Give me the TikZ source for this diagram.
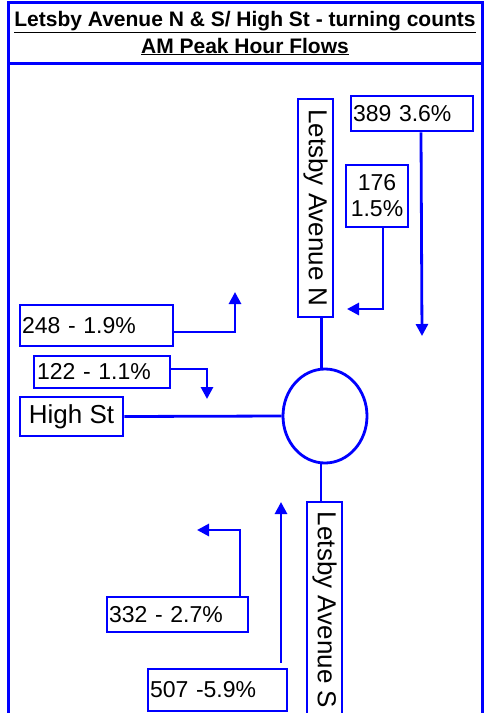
\documentclass[tikz,border=0pt]{standalone}
\usepackage{fontspec}
\setmainfont{Liberation Sans}
\usepackage{tikz}
\usetikzlibrary{arrows.meta, calc, shapes.geometric}
\definecolor{roadblue}{HTML}{0000FF}
\newcommand{\numfont}{\fontsize{23}{26}\selectfont}
\newcommand{\roadfont}{\fontsize{26}{30}\selectfont}

\begin{document}
\begin{tikzpicture}[x=1pt, y=-1pt,
    box/.style={draw=roadblue, line width=2.8pt, fill=white, inner sep=0pt},
    lbox/.style={box, align=left, inner xsep=2pt, font=\numfont},
    road/.style={draw=roadblue, line width=2.8pt},
    flow/.style={draw=roadblue, line width=2.8pt, -{Triangle[length=12pt, width=12pt]}}]
    \useasboundingbox (0,0) rectangle (484,713);
    % frame and title
    \draw[roadblue, line width=3pt] (8,720) -- (8,2) -- (482,2) -- (482,720);
    \draw[roadblue, line width=3pt] (8,63) -- (482,63);
    \node[font=\bfseries\fontsize{21}{27}\selectfont, align=center] (title) at (245,33)
      {\underline{Letsby Avenue N \& S/ High St - turning counts}\\\underline{AM Peak Hour Flows}};

    % roads and roundabout
    \node[box, shape=ellipse, minimum width=84pt, minimum height=94pt] (rb) at (325,416) {};
    \node[box, font=\roadfont, rotate=-90, minimum width=218pt, minimum height=35pt] (avN) at (315.5,208) {Letsby Avenue N};
    \node[box, font=\roadfont, rotate=-90, minimum width=216pt, minimum height=35pt] (avS) at (324.5,610) {Letsby Avenue S};
    \node[box, font=\roadfont, minimum width=103pt, minimum height=39pt] (high) at (71.5,416.5) {High St};
    \draw[road] ([xshift=6pt]avN.east) -- ([xshift=6pt]avN.east |- rb.north);
    \draw[road] (high.east) -- (rb.west);
    \draw[road] ([xshift=-4pt]rb.south) -- ([xshift=-4pt]rb.south |- avS.west);

    % counts
    \node[lbox, text width=118pt, minimum height=35pt] (v389) at (412,113.5) {389 3.6\%};
    \node[box, font=\numfont, align=center, minimum width=62pt, minimum height=62pt] (v176) at (377,196) {176\\1.5\%};
    \node[lbox, text width=149pt, minimum height=41pt] (v248) at (96.5,325.5) {248 - 1.9\%};
    \node[lbox, text width=130pt, minimum height=32pt, inner xsep=3pt] (v122) at (102,372) {122 - 1.1\%};
    \node[lbox, text width=137pt, minimum height=35pt] (v332) at (177.5,614.5) {332 - 2.7\%};
    \node[lbox, text width=135pt, minimum height=42pt] (v507) at (217.5,690) {507 -5.9\%};

    \coordinate (t389) at (422,336);
    \coordinate (t176) at (347,309);
    \coordinate (t248) at (235,292);
    \coordinate (t122) at (207,399);
    \coordinate (t332) at (197,530);
    \coordinate (t507) at (281,502);

    \draw[flow] ([xshift=9pt]v389.south) -- (t389);
    \draw[flow] ([xshift=6pt]v176.south) |- (t176);
    \draw[flow] ([yshift=-6.5pt]v248.east) -| (t248);
    \draw[flow] ([yshift=3pt]v122.east) -| (t122);
    \draw[flow] ([xshift=62.5pt]v332.north) |- (t332);
    \draw[flow] ([shift={(63.5pt,5pt)}]v507.north) -- (t507);
\end{tikzpicture}
\end{document}
